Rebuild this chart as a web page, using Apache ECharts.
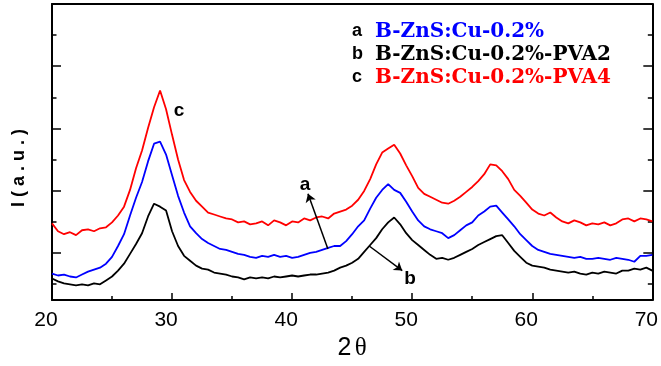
<!DOCTYPE html>
<html><head><meta charset="utf-8">
<script src="https://cdn.jsdelivr.net/npm/echarts@6.0.0/dist/echarts.min.js"></script>
<style>html,body{margin:0;padding:0;background:#fff}#c{width:661px;height:366px}</style>
</head><body><div id="c"></div>
<script>
// 2θ positions (degrees)
const twoTheta = [20,20.5,21,21.5,22,22.5,23,23.5,24,24.5,25,25.5,26,26.5,27,27.5,28,28.5,29,29.5,
30,30.5,31,31.5,32,32.5,33,33.5,34,34.5,35,35.5,36,36.5,37,37.5,38,38.5,39,39.5,
40,40.5,41,41.5,42,42.5,43,43.5,44,44.5,45,45.5,46,46.5,47,47.5,48,48.5,49,49.5,
50,50.5,51,51.5,52,52.5,53,53.5,54,54.5,55,55.5,56,56.5,57,57.5,58,58.5,59,59.5,
60,60.5,61,61.5,62,62.5,63,63.5,64,64.5,65,65.5,66,66.5,67,67.5,68,68.5,69,69.5,70];
// intensities (a.u.)
const seriesA = [27,25,26,24,23,26,29,31,33,37,
44,55,67,86,104,120,141,159,161,148,
127,106,89,75,68,62,58,55,52,51,
49,47,46,44,43,45,44,46,44,45,
43,44,46,48,49,51,53,55,55,60,
67,75,81,93,104,112,118,112,109,100,
90,81,75,72,70,68,63,66,71,76,
79,86,90,95,96,89,82,75,67,61,
55,51,49,47,46,45,44,43,44,42,
42,43,42,41,43,42,41,39,45,45,46];
const seriesB = [22,19,17,16,15,16,15,17,16,20,
24,30,37,47,57,68,85,98,95,91,
70,55,45,40,35,32,31,28,27,26,
24,23,21,23,22,23,22,24,23,24,
25,24,25,26,26,27,28,30,33,35,
38,42,49,56,63,72,79,84,77,68,
61,56,51,46,42,43,41,43,46,49,
52,56,59,62,65,66,58,50,44,38,
35,34,33,31,30,29,28,29,27,26,
28,27,29,28,27,30,30,32,31,33,30];
const seriesC = [78,70,67,69,66,71,72,70,73,74,
79,86,95,112,134,152,175,196,213,194,
168,143,122,110,101,95,89,87,85,83,
82,79,80,77,78,80,76,81,79,76,
80,79,83,81,84,85,83,88,90,92,
96,102,111,123,138,150,154,158,149,137,
126,114,108,105,102,99,98,101,105,110,
115,121,128,138,137,131,123,112,106,99,
92,88,86,89,84,80,78,81,79,76,
78,77,79,76,78,82,83,80,83,82,80];
const seriesNames = ['B-ZnS:Cu-0.2%', 'B-ZnS:Cu-0.2%-PVA2', 'B-ZnS:Cu-0.2%-PVA4'];
const seriesKeys = ['a', 'b', 'c'];
const xTickLabels = [20, 30, 40, 50, 60, 70];
// annotations in data coordinates
const annoLabelA = [41.07, 117];
const annoLabelB = [49.83, 22];
const annoLabelC = [30.58, 192];
const arrowA = [[42.98, 52], [41.32, 108]];
const arrowB = [[46.42, 55], [49.17, 30]];

const colors = ['#0000ff', '#000000', '#ff0000'];
const seriesVals = [seriesA, seriesB, seriesC];
const keyOf = {};
seriesNames.forEach((n, i) => keyOf[n] = seriesKeys[i]);

function pairs(vals) { return twoTheta.map((x, i) => [x, vals[i]]); }

const labelStyle = {show: true, color: '#000', fontFamily: 'Liberation Sans, Arial', fontWeight: 'bold', fontSize: 19};

const series = seriesVals.map((vals, i) => ({
  name: seriesNames[i], type: 'line', data: pairs(vals), showSymbol: false, symbol: 'none',
  xAxisIndex: 0, yAxisIndex: 0,
  lineStyle: {color: colors[i], width: 1.8}, itemStyle: {color: colors[i]},
  silent: true, animation: false
}));
function addLabel(s, text, coord) {
  s.markPoint = {symbol: 'circle', symbolSize: 0, silent: true, animation: false,
    label: Object.assign({formatter: text, position: 'inside'}, labelStyle),
    data: [{coord: coord}]};
}
function addArrow(s, seg) {
  s.markLine = {symbol: ['none', 'arrow'], symbolSize: 8, silent: true, animation: false,
    lineStyle: {color: '#000', width: 1.5, type: 'solid'}, label: {show: false},
    data: [[{coord: seg[0]}, {coord: seg[1]}]]};
}
addLabel(series[0], 'a', annoLabelA); addArrow(series[0], arrowA);
addLabel(series[1], 'b', annoLabelB); addArrow(series[1], arrowB);
addLabel(series[2], 'c', annoLabelC);

const axisLine = {show: true, lineStyle: {color: '#000', width: 2}};
const tickAxisY = (pos) => ({
  type: 'value', position: pos, inverse: true, min: 0, max: 4.763, interval: 1,
  axisLine: axisLine,
  axisTick: {show: true, inside: true, length: 9, lineStyle: {color: '#000', width: 1.5}},
  minorTick: {show: true, splitNumber: 2, length: 4.5, lineStyle: {color: '#000', width: 1.5}},
  axisLabel: {show: false}, splitLine: {show: false}, minorSplitLine: {show: false}
});

const chart = echarts.init(document.getElementById('c'), null, {renderer: 'canvas'});
chart.setOption({
  animation: false,
  backgroundColor: '#fff',
  grid: {left: 52, right: 4, top: 4, bottom: 61, containLabel: false},
  legend: {
    orient: 'vertical', left: 347, top: 20, padding: 0, itemWidth: 0, itemHeight: 0, itemGap: 0,
    icon: 'none', selectedMode: false,
    data: seriesNames.map((n, i) => ({name: n, textStyle: {color: colors[i]}})),
    formatter: (n) => '{k|' + keyOf[n] + '}{n|' + n + '}',
    textStyle: {
      lineHeight: 23,
      rich: {
        k: {color: '#000', fontFamily: 'Liberation Sans, Arial', fontWeight: 'bold', fontSize: 18, lineHeight: 23, width: 23},
        n: {fontFamily: 'DejaVu Serif, serif', fontWeight: 'bold', fontSize: 20, lineHeight: 23}
      }
    }
  },
  xAxis: [{
    type: 'value', position: 'bottom', min: 20, max: 70, interval: 10,
    axisLine: axisLine,
    axisTick: {show: true, inside: true, length: 7, lineStyle: {color: '#000', width: 1.5}},
    minorTick: {show: true, splitNumber: 2, length: 4, lineStyle: {color: '#000', width: 1.5}},
    axisLabel: {show: true, color: '#000', fontFamily: 'Liberation Sans, Arial', fontSize: 21, margin: 10,
      padding: [0, 12, 0, 0],
      formatter: (v) => xTickLabels.indexOf(v) >= 0 ? String(v) : ''},
    splitLine: {show: false},
    name: '{a|2} {b|θ}', nameLocation: 'middle', nameGap: 31,
    nameTextStyle: {rich: {
      a: {fontFamily: 'Liberation Sans, Arial', fontSize: 25, color: '#000'},
      b: {fontFamily: 'Liberation Serif, serif', fontSize: 25, color: '#000'}}}
  }, {
    type: 'value', position: 'top', min: 20, max: 70,
    axisLine: axisLine, axisTick: {show: false}, axisLabel: {show: false}, splitLine: {show: false}
  }],
  yAxis: [{
    type: 'value', position: 'left', min: 0, max: 301,
    axisLine: {show: false}, axisTick: {show: false}, axisLabel: {show: false}, splitLine: {show: false},
    name: 'I ( a . u . )', nameLocation: 'middle', nameGap: 24,
    nameTextStyle: {fontFamily: 'Liberation Sans, Arial', fontWeight: 'bold', fontSize: 18, color: '#000',
      padding: [0, 32, 0, 0]}
  }, tickAxisY('left'), tickAxisY('right')],
  series: series
});
</script>
</body></html>
